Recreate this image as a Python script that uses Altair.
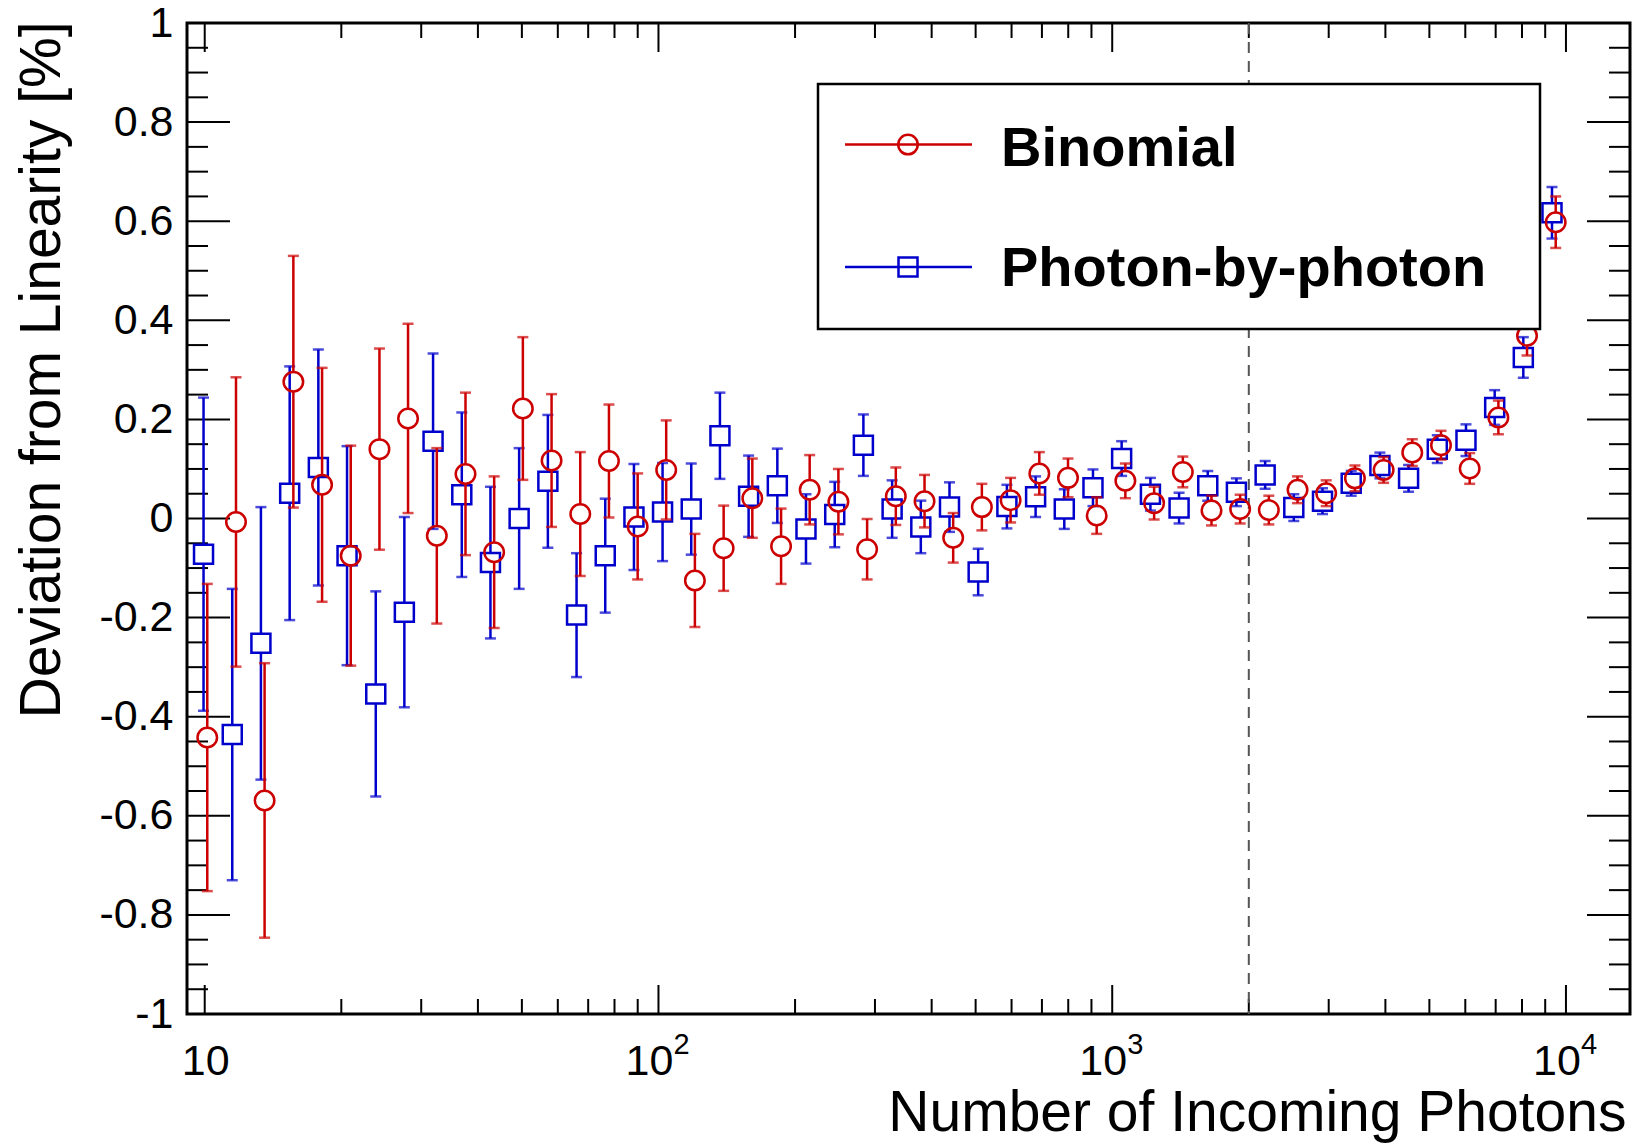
import altair as alt
import pandas as pd

# Number of incoming photons for each measurement point
photons_pbp = [9.94, 11.50, 13.30, 15.39, 17.80, 20.59, 23.82, 27.54, 31.86, 36.86,
               42.63, 49.31, 57.05, 65.99, 76.33, 88.30, 102.1, 118.1, 136.6, 158.0,
               182.8, 211.4, 244.6, 282.9, 327.3, 378.6, 437.9, 506.5, 586.0, 677.9,
               784.1, 907.0, 1049, 1214, 1404, 1624, 1878, 2173, 2513, 2907,
               3363, 3890, 4499, 5205, 6021, 6965, 8054, 9316]
photons_bin = [10.13, 11.72, 13.55, 15.68, 18.14, 20.98, 24.27, 28.06, 32.47, 37.56,
               43.44, 50.25, 58.13, 67.24, 77.78, 89.98, 104.0, 120.3, 139.2, 161.0,
               186.3, 215.4, 249.2, 288.3, 333.5, 385.8, 446.2, 516.1, 597.1, 690.8,
               799.0, 924.2, 1069, 1237, 1431, 1655, 1914, 2214, 2561, 2962,
               3427, 3964, 4584, 5304, 6135, 7097, 8207, 9493]

# Deviation from linearity [%] and its uncertainty
dev_pbp = [-0.072, -0.436, -0.252, 0.051, 0.103, -0.075, -0.354, -0.189, 0.156, 0.048,
           -0.089, 0.000, 0.075, -0.195, -0.075, 0.003, 0.013, 0.019, 0.167, 0.045,
           0.066, -0.021, 0.008, 0.148, 0.019, -0.017, 0.023, -0.108, 0.024, 0.044,
           0.019, 0.062, 0.121, 0.049, 0.021, 0.066, 0.053, 0.088, 0.022, 0.035,
           0.071, 0.107, 0.081, 0.140, 0.158, 0.224, 0.325, 0.617]
err_pbp = [0.316, 0.294, 0.275, 0.256, 0.238, 0.221, 0.207, 0.192, 0.177, 0.166,
           0.153, 0.142, 0.134, 0.125, 0.115, 0.107, 0.099, 0.092, 0.087, 0.082,
           0.075, 0.070, 0.066, 0.062, 0.058, 0.053, 0.050, 0.047, 0.044, 0.041,
           0.040, 0.037, 0.035, 0.033, 0.031, 0.030, 0.028, 0.028, 0.027, 0.026,
           0.025, 0.026, 0.027, 0.028, 0.032, 0.035, 0.041, 0.052]

dev_bin = [-0.442, -0.007, -0.569, 0.276, 0.068, -0.075, 0.140, 0.202, -0.035, 0.090,
           -0.068, 0.222, 0.117, 0.009, 0.116, -0.016, 0.098, -0.125, -0.060, 0.041,
           -0.056, 0.058, 0.034, -0.062, 0.045, 0.035, -0.039, 0.023, 0.037, 0.091,
           0.082, 0.006, 0.076, 0.031, 0.094, 0.016, 0.019, 0.017, 0.058, 0.051,
           0.081, 0.098, 0.133, 0.148, 0.101, 0.204, 0.369, 0.598]
err_bin = [0.310, 0.292, 0.277, 0.254, 0.236, 0.222, 0.203, 0.191, 0.177, 0.164,
           0.153, 0.144, 0.134, 0.125, 0.114, 0.107, 0.100, 0.094, 0.086, 0.080,
           0.076, 0.070, 0.066, 0.061, 0.058, 0.053, 0.050, 0.047, 0.045, 0.043,
           0.039, 0.037, 0.035, 0.033, 0.031, 0.030, 0.029, 0.029, 0.027, 0.026,
           0.026, 0.026, 0.027, 0.029, 0.031, 0.034, 0.040, 0.052]

series_names = ["Binomial", "Photon-by-photon"]
series_colors = ["#cc0000", "#0000cc"]

threshold_photons = [2000]

x_tick_values = [10, 100, 1000, 10000]
x_tick_base = ["10", "10", "10", "10"]
x_tick_exponents = ["", "2", "3", "4"]
x_minor_ticks = [m * 10 ** e for e in (1, 2, 3) for m in range(2, 10)]
y_major_ticks = [round(-1 + 0.2 * i, 1) for i in range(11)]
y_minor_ticks = [round(-1 + 0.05 * i, 2) for i in range(41) if i % 4]

W, H = 1443, 991
FONT = "Liberation Sans, Arial, Helvetica, sans-serif"
MARKER_GAP = 0.02  # half marker height in data units, keeps bars outside open markers

xscale = alt.Scale(type="log", domain=[9.14, 13840], nice=False)
yscale = alt.Scale(domain=[-1, 1], nice=False, zero=False)

x_axis = alt.Axis(
    values=x_tick_values, labels=False, ticks=False, domain=False, grid=False,
    title="Number of Incoming Photons", titleFont=FONT, titleFontSize=57,
    titleFontWeight="normal", titleColor="black", titleX=1439, titleY=116,
    titleAlign="right", titleBaseline="alphabetic",
)
y_axis = alt.Axis(
    values=y_major_ticks,
    labelExpr="(datum.value < 0 ? '-' : '') + format(abs(datum.value), '.1~f')",
    ticks=False, domain=False, grid=False,
    labelFont=FONT, labelFontSize=43, labelColor="black", labelPadding=14,
    labelFlush=False, labelOverlap=False,
    title="Deviation from Linearity [%]", titleFont=FONT, titleFontSize=57,
    titleFontWeight="normal", titleColor="black", titleAngle=270,
    titleX=-128, titleY=-2, titleAlign="right", titleBaseline="alphabetic",
)


def X(field):
    return alt.X(field, type="quantitative", scale=xscale, axis=x_axis)


def Y(field):
    return alt.Y(field, type="quantitative", scale=yscale, axis=y_axis)


def series_layers(photons, dev, err, color, shape, size):
    df = pd.DataFrame({"n": photons, "d": dev, "e": err})
    base = alt.Chart(df).transform_calculate(
        hi="datum.d + datum.e",
        lo="datum.d - datum.e",
        up="datum.d + %f" % MARKER_GAP,
        dn="datum.d - %f" % MARKER_GAP,
    )
    upper = base.mark_rule(color=color, strokeWidth=2.5).encode(
        x=X("n"), y=Y("up"), y2="hi:Q")
    lower = base.mark_rule(color=color, strokeWidth=2.5).encode(
        x=X("n"), y=Y("lo"), y2="dn:Q")
    cap_hi = base.mark_tick(color=color, orient="horizontal", size=11, thickness=2.5).encode(
        x=X("n"), y=Y("hi"))
    cap_lo = base.mark_tick(color=color, orient="horizontal", size=11, thickness=2.5).encode(
        x=X("n"), y=Y("lo"))
    pts = base.mark_point(shape=shape, filled=False, size=size, strokeWidth=2.5,
                          color=color, opacity=1).encode(x=X("n"), y=Y("d"))
    return [upper, lower, cap_hi, cap_lo, pts]


# Frame ticks drawn inward on all four sides
xmaj = pd.DataFrame({"t": x_tick_values})
xmin = pd.DataFrame({"t": x_minor_ticks})
ymaj = pd.DataFrame({"t": y_major_ticks})
ymin = pd.DataFrame({"t": y_minor_ticks})


def xticks(df, length):
    b = alt.Chart(df).mark_rule(color="black", strokeWidth=2)
    return [
        b.encode(x=X("t"), y=alt.value(H), y2=alt.value(H - length)),
        b.encode(x=X("t"), y=alt.value(0), y2=alt.value(length)),
    ]


def yticks(df, length):
    b = alt.Chart(df).mark_rule(color="black", strokeWidth=2)
    return [
        b.encode(y=Y("t"), x=alt.value(0), x2=alt.value(length)),
        b.encode(y=Y("t"), x=alt.value(W), x2=alt.value(W - length)),
    ]


frame_ticks = xticks(xmaj, 29) + xticks(xmin, 15) + yticks(ymaj, 43) + yticks(ymin, 21)

# Decade labels on the log axis: "10" with a raised exponent
xlab = pd.DataFrame({"t": x_tick_values, "base": x_tick_base, "exp": x_tick_exponents})
xlab_chart = alt.Chart(xlab)
decade_labels = [
    xlab_chart.transform_filter("datum.exp == ''").mark_text(
        align="center", baseline="alphabetic", font=FONT, fontSize=43, color="black", dx=1
    ).encode(x=X("t"), y=alt.value(H + 61), text="base:N"),
    xlab_chart.transform_filter("datum.exp != ''").mark_text(
        align="center", baseline="alphabetic", font=FONT, fontSize=43, color="black", dx=-9
    ).encode(x=X("t"), y=alt.value(H + 61), text="base:N"),
    xlab_chart.transform_filter("datum.exp != ''").mark_text(
        align="left", baseline="alphabetic", font=FONT, fontSize=29, color="black", dx=15
    ).encode(x=X("t"), y=alt.value(H + 40), text="exp:N"),
]

threshold = alt.Chart(pd.DataFrame({"t": threshold_photons})).mark_rule(
    color="#555555", strokeWidth=2, strokeDash=[11, 8]
).encode(x=X("t"), y=alt.value(0), y2=alt.value(H))

layers_pbp = series_layers(photons_pbp, dev_pbp, err_pbp, series_colors[1], "square", 361)
layers_bin = series_layers(photons_bin, dev_bin, err_bin, series_colors[0], "circle", 380)

# Legend box drawn over the data
leg_df = pd.DataFrame({"k": [0]})
leg = alt.Chart(leg_df)
legend_layers = [
    leg.mark_rect(fill="white", stroke="black", strokeWidth=2.5).encode(
        x=alt.value(631), x2=alt.value(1353), y=alt.value(61), y2=alt.value(306)),
]
entry_rows = [(121.6, 142.5, "circle", 380), (244.0, 263.0, "square", 361)]
for name, color, (ly, ty, shape, size) in zip(series_names, series_colors, entry_rows):
    legend_layers += [
        leg.mark_rule(color=color, strokeWidth=2.5).encode(
            x=alt.value(658), x2=alt.value(785), y=alt.value(ly)),
        leg.mark_point(shape=shape, filled=False, size=size, strokeWidth=2.5,
                       color=color, opacity=1).encode(x=alt.value(721), y=alt.value(ly)),
        leg.mark_text(align="left", baseline="alphabetic", font=FONT, fontSize=56,
                      fontWeight="bold", color="black").encode(
            x=alt.value(814), y=alt.value(ty), text=alt.value(name)),
    ]

chart = alt.layer(
    *frame_ticks, *decade_labels, threshold, *layers_pbp, *layers_bin, *legend_layers
).properties(
    width=W, height=H,
    autosize=alt.AutoSizeParams(type="none"),
    padding={"left": 187, "top": 23, "right": 10, "bottom": 130},
    background="white",
).configure_view(stroke="black", strokeWidth=3)

chart.save("out.html", embed_options={"renderer": "svg", "actions": False})
